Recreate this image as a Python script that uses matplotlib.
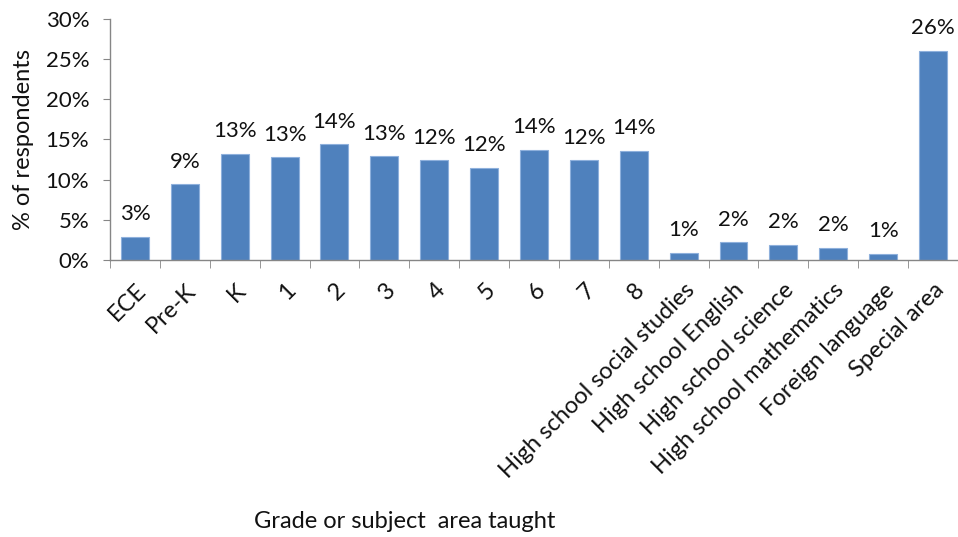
import numpy as np
import matplotlib.pyplot as plt
import matplotlib.transforms as mtransforms
from matplotlib.ticker import FixedLocator, FuncFormatter

plt.rcParams['font.family'] = ['Lato', 'DejaVu Sans']

categories = ['ECE', 'Pre-K', 'K', '1', '2', '3', '4', '5', '6', '7', '8',
              'High school social studies', 'High school English',
              'High school science', 'High school mathematics',
              'Foreign language', 'Special area']
percent = [2.9, 9.4, 13.2, 12.8, 14.4, 12.9, 12.4, 11.5, 13.7, 12.4, 13.6,
           0.9, 2.2, 1.9, 1.5, 0.8, 26.0]
y_ticks = [0, 5, 10, 15, 20, 25, 30]

fig = plt.figure(figsize=(9.58, 5.37), dpi=100)
ax = fig.add_axes([0.1148, 0.5158, 0.8852, 0.4494])

x = np.arange(len(categories))
bars = ax.bar(x, percent, width=0.56, color='#4f81bd', edgecolor='#8eb0dc',
              linewidth=0.8, zorder=2)

# labels above bars, rounded half up
for xi, v in zip(x, percent):
    ax.annotate(f'{int(v + 0.5)}%', (xi, v), xytext=(0, 9),
                textcoords='offset points', ha='center', va='bottom',
                fontsize=16, color='#111111')

ax.set_xlim(-0.5, len(categories) - 0.5)
ax.set_ylim(0, 30)
ax.yaxis.set_major_locator(FixedLocator(y_ticks))
ax.yaxis.set_major_formatter(FuncFormatter(lambda v, p: f'{int(v)}%'))

ax.set_xticks(x)
ax.set_xticklabels(categories, rotation=45, ha='right', rotation_mode='anchor',
                   fontsize=17, color='#111111')
# nudge rotated labels a little to the right
shift = mtransforms.ScaledTranslation(8 / 100, 0, fig.dpi_scale_trans)
for lbl in ax.get_xticklabels():
    lbl.set_transform(lbl.get_transform() + shift)
ax.set_xticks(np.arange(-0.5, len(categories)), minor=True)
ax.tick_params(axis='x', which='major', length=0, pad=14)
ax.tick_params(axis='x', which='minor', length=6, color='#868686', direction='out')
ax.tick_params(axis='y', length=5, color='#868686', labelsize=16,
               labelcolor='#111111', pad=10)

for s in ['top', 'right']:
    ax.spines[s].set_visible(False)
for s in ['left', 'bottom']:
    ax.spines[s].set_color('#868686')
    ax.spines[s].set_linewidth(1.0)

ax.set_ylabel('% of respondents', fontsize=17, color='#111111', labelpad=8)
fig.text(405 / 958, 1 - 521 / 537, 'Grade or subject  area taught',
         ha='center', va='center', fontsize=17, color='#111111')

fig.savefig('out.png', dpi=100)
